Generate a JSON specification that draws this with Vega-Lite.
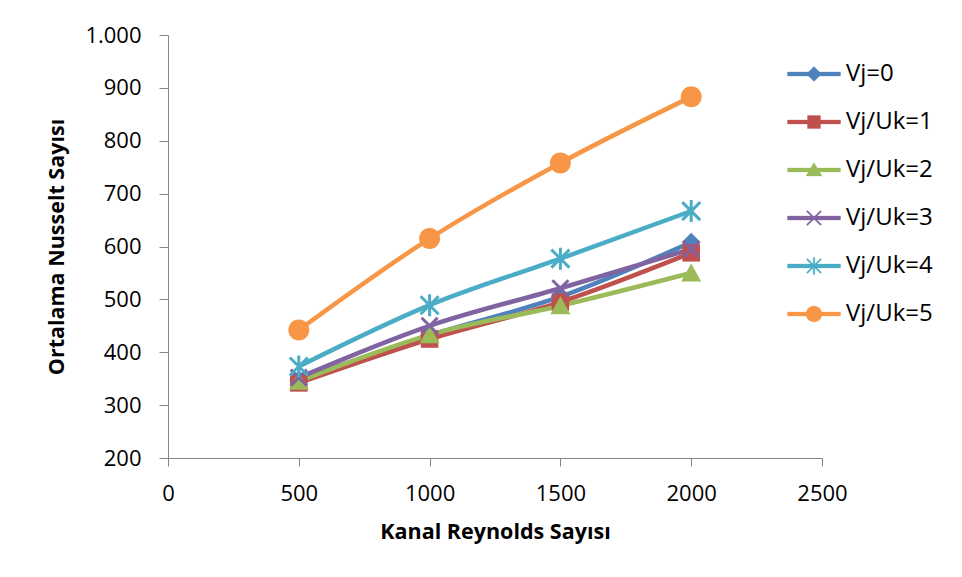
{
  "$schema": "https://vega.github.io/schema/vega-lite/v6.json",
  "width": 654,
  "height": 423,
  "autosize": {"type": "none"},
  "padding": {"left": 168, "top": 35, "right": 140, "bottom": 119},
  "background": "white",
  "data": {
    "values": [
      {"series": "Vj=0", "re": 500, "nu": 348},
      {"series": "Vj=0", "re": 1000, "nu": 432},
      {"series": "Vj=0", "re": 1500, "nu": 505},
      {"series": "Vj=0", "re": 2000, "nu": 608},
      {"series": "Vj/Uk=1", "re": 500, "nu": 342},
      {"series": "Vj/Uk=1", "re": 1000, "nu": 425},
      {"series": "Vj/Uk=1", "re": 1500, "nu": 495},
      {"series": "Vj/Uk=1", "re": 2000, "nu": 588},
      {"series": "Vj/Uk=2", "re": 500, "nu": 345},
      {"series": "Vj/Uk=2", "re": 1000, "nu": 433},
      {"series": "Vj/Uk=2", "re": 1500, "nu": 488},
      {"series": "Vj/Uk=2", "re": 2000, "nu": 550},
      {"series": "Vj/Uk=3", "re": 500, "nu": 352},
      {"series": "Vj/Uk=3", "re": 1000, "nu": 450},
      {"series": "Vj/Uk=3", "re": 1500, "nu": 521},
      {"series": "Vj/Uk=3", "re": 2000, "nu": 595},
      {"series": "Vj/Uk=4", "re": 500, "nu": 373},
      {"series": "Vj/Uk=4", "re": 1000, "nu": 489},
      {"series": "Vj/Uk=4", "re": 1500, "nu": 577},
      {"series": "Vj/Uk=4", "re": 2000, "nu": 667},
      {"series": "Vj/Uk=5", "re": 500, "nu": 442},
      {"series": "Vj/Uk=5", "re": 1000, "nu": 615},
      {"series": "Vj/Uk=5", "re": 1500, "nu": 758},
      {"series": "Vj/Uk=5", "re": 2000, "nu": 883}
    ]
  },
  "encoding": {
    "x": {
      "field": "re", "type": "quantitative",
      "scale": {"domain": [0, 2500], "nice": false},
      "axis": {
        "title": "Kanal Reynolds Sayısı",
        "values": [0, 500, 1000, 1500, 2000, 2500],
        "format": "d",
        "labelFlush": false,
        "tickSize": 8, "labelPadding": 17, "titlePadding": 17
      }
    },
    "y": {
      "field": "nu", "type": "quantitative",
      "scale": {"domain": [200, 1000], "nice": false},
      "axis": {
        "title": "Ortalama Nusselt Sayısı",
        "values": [200, 300, 400, 500, 600, 700, 800, 900, 1000],
        "labelExpr": "datum.value == 1000 ? '1.000' : datum.label",
        "labelFlush": false,
        "tickSize": 9, "labelPadding": 18, "titlePadding": 16
      }
    }
  },
  "layer": [
    {
      "mark": {"type": "line", "strokeWidth": 4.5, "interpolate": "monotone"},
      "encoding": {
        "color": {
          "field": "series", "type": "nominal",
          "scale": {
            "domain": ["Vj=0", "Vj/Uk=1", "Vj/Uk=2", "Vj/Uk=3", "Vj/Uk=4", "Vj/Uk=5"],
            "range": ["#4F81BD", "#C0504D", "#9BBB59", "#8064A2", "#4BACC6", "#F79646"]
          },
          "legend": {
            "title": null,
            "orient": "none",
            "legendX": 634,
            "legendY": 27,
            "labelFont": "Open Sans",
            "labelFontSize": 24,
            "labelColor": "#000000",
            "symbolSize": 400,
            "rowPadding": 24,
            "labelOffset": 20,
            "symbolStrokeWidth": 0.3,
            "symbolFillColor": {"expr": "scale('color', datum.value)"},
            "symbolType": {"expr": "datum.value==='Vj=0' ? 'M-2.65,-0.2H2.65V0.2H-2.65ZM0,-0.75L0.75,0L0,0.75L-0.75,0Z' : datum.value==='Vj/Uk=1' ? 'M-2.65,-0.2H2.65V0.2H-2.65ZM-0.65,-0.65H0.65V0.65H-0.65Z' : datum.value==='Vj/Uk=2' ? 'M-2.65,-0.2H2.65V0.2H-2.65ZM0,-0.75L0.8,0.6H-0.8Z' : datum.value==='Vj/Uk=3' ? 'M-2.65,-0.2H2.65V0.2H-2.65ZM-0.643,-0.757L0.757,0.643L0.643,0.757L-0.757,-0.643ZM-0.643,0.757L-0.757,0.643L0.643,-0.757L0.757,-0.643Z' : datum.value==='Vj/Uk=4' ? 'M-2.65,-0.2H2.65V0.2H-2.65ZM-0.643,-0.757L0.757,0.643L0.643,0.757L-0.757,-0.643ZM-0.643,0.757L-0.757,0.643L0.643,-0.757L0.757,-0.643ZM-0.08,-0.85H0.08V0.85H-0.08Z' : 'M-2.65,-0.2H2.65V0.2H-2.65ZM0.8,0A0.8,0.8,0,1,1,-0.8,0A0.8,0.8,0,1,1,0.8,0Z'"}
          }
        }
      }
    },
    {
      "mark": {"type": "point", "filled": true, "opacity": 1, "size": 100, "strokeWidth": 0},
      "encoding": {
        "color": {
          "field": "series", "type": "nominal",
          "scale": {
            "domain": ["Vj=0", "Vj/Uk=1", "Vj/Uk=2", "Vj/Uk=3", "Vj/Uk=4", "Vj/Uk=5"],
            "range": ["#4F81BD", "#C0504D", "#9BBB59", "#8064A2", "#4BACC6", "#F79646"]
          },
          "legend": null
        },
        "shape": {
          "condition": [
            {"test": "datum.series === 'Vj=0'", "value": "M0,-1.9L1.9,0L0,1.9L-1.9,0Z"},
            {"test": "datum.series === 'Vj/Uk=1'", "value": "M-1.75,-1.75H1.75V1.75H-1.75Z"},
            {"test": "datum.series === 'Vj/Uk=2'", "value": "M0,-1.9L2,1.7H-2Z"},
            {"test": "datum.series === 'Vj/Uk=3'", "value": "M-1.388,-1.812L1.812,1.388L1.388,1.812L-1.812,-1.388ZM-1.388,1.812L-1.812,1.388L1.388,-1.812L1.812,-1.388Z"},
            {"test": "datum.series === 'Vj/Uk=4'", "value": "M-1.588,-2.012L2.012,1.588L1.588,2.012L-2.012,-1.588ZM-1.588,2.012L-2.012,1.588L1.588,-2.012L2.012,-1.588ZM-0.3,-2.2H0.3V2.2H-0.3Z"}
          ],
          "value": "M2.1,0A2.1,2.1,0,1,1,-2.1,0A2.1,2.1,0,1,1,2.1,0Z"
        }
      }
    }
  ],
  "config": {
    "font": "Open Sans",
    "view": {"stroke": null},
    "axis": {
      "grid": false,
      "domainColor": "#868686",
      "tickColor": "#868686",
      "labelColor": "#000000",
      "labelFont": "Open Sans",
      "labelFontSize": 22,
      "titleFont": "Open Sans",
      "titleFontSize": 21.5,
      "titleFontWeight": "bold",
      "titleColor": "#000000"
    }
  }
}
